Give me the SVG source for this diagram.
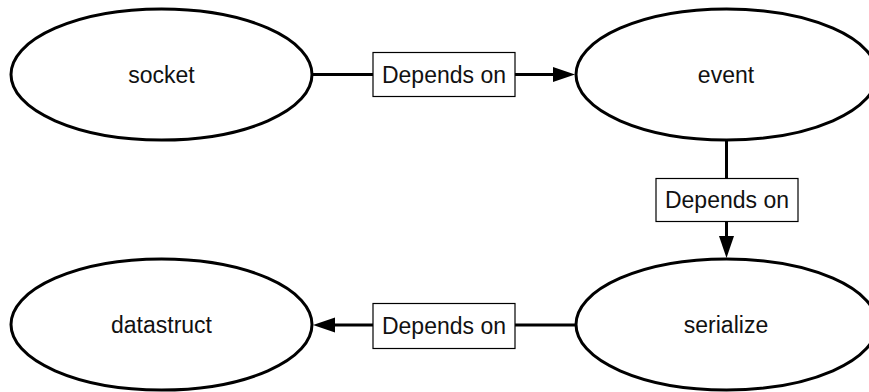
<svg xmlns="http://www.w3.org/2000/svg" width="869" height="392" viewBox="0 0 869 392">
<style>
.node ellipse{fill:#fff;stroke:#000;stroke-width:3}
text{font-family:"Liberation Sans",Arial,Helvetica,sans-serif;font-size:23px;fill:#111;text-anchor:middle}
.edge line{stroke:#000;stroke-width:3}
.lbl rect{fill:#fff;stroke:#000;stroke-width:1.2}
</style>
<defs>
<marker id="ah" markerUnits="userSpaceOnUse" markerWidth="23" markerHeight="16" refX="7" refY="7.5" orient="auto">
<path d="M0,0 L22,7.5 L0,15 z" fill="#000"/>
</marker>
</defs>
<g id="connectors">
<g class="edge" id="e1">
<line x1="313" y1="74.5" x2="373" y2="74.5"/>
<line x1="515" y1="74.5" x2="560" y2="74.5" marker-end="url(#ah)"/>
<g class="lbl"><rect x="373" y="52.5" width="142" height="44"/><text x="444" y="82.5">Depends on</text></g>
</g>
<g class="edge" id="e2">
<line x1="726.5" y1="140" x2="726.5" y2="178.5"/>
<line x1="726.5" y1="221.5" x2="726.5" y2="243" marker-end="url(#ah)"/>
<g class="lbl"><rect x="656" y="178.5" width="142" height="43"/><text x="727" y="208">Depends on</text></g>
</g>
<g class="edge" id="e3">
<line x1="576" y1="325" x2="515" y2="325"/>
<line x1="373" y1="325" x2="328" y2="325" marker-end="url(#ah)"/>
<g class="lbl"><rect x="373" y="303.5" width="142" height="45"/><text x="444" y="333.5">Depends on</text></g>
</g>
</g>
<g id="socket" class="node"><ellipse cx="161.5" cy="74.5" rx="150.5" ry="65.5"/><text x="161.5" y="82.5">socket</text></g>
<g id="event" class="node"><ellipse cx="726.5" cy="74.5" rx="150.5" ry="65.5"/><text x="726" y="82.5">event</text></g>
<g id="serialize" class="node"><ellipse cx="726.5" cy="324.5" rx="150.5" ry="65.5"/><text x="726" y="332.5">serialize</text></g>
<g id="datastruct" class="node"><ellipse cx="161.5" cy="324.5" rx="150.5" ry="65.5"/><text x="161.5" y="332.5">datastruct</text></g>
</svg>
